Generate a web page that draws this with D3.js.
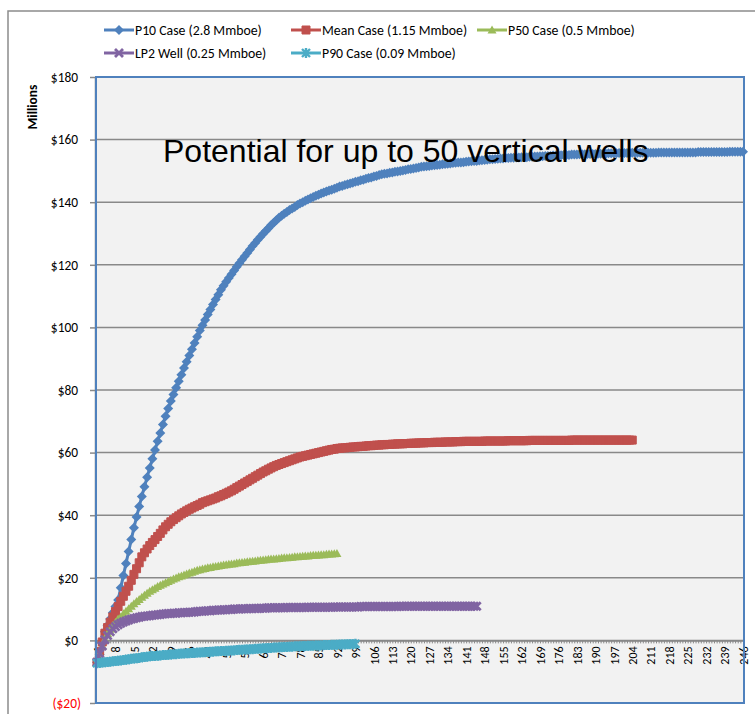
<!DOCTYPE html>
<html>
<head>
<meta charset="utf-8">
<script src="https://cdn.jsdelivr.net/npm/d3@7"></script>
<style>
  body { margin: 0; background: #fff; }
</style>
</head>
<body>
<div id="chart"></div>
<script>
// ---- data ($ millions per period) ----
var p10Case = [
  -7, -4.5, -1, 2.8, 4.8, 6.8, 8.8, 10.8, 12.9, 16.8,
  20.7, 24.6, 28.4, 32.2, 36, 39.4, 42.8, 46, 49.1, 52.1,
  55.1, 58, 60.8, 63.6, 66.3, 69, 71.6, 74.1, 76.5, 78.6,
  80.7, 82.8, 84.9, 87, 89, 91, 93, 95, 97, 99,
  100.7, 102.4, 104.1, 105.7, 107.3, 108.9, 110.4, 112, 113.3, 114.6,
  115.8, 117, 118.2, 119.4, 120.5, 121.6, 122.7, 123.8, 124.9, 126,
  127, 128, 129, 129.9, 130.8, 131.7, 132.6, 133.4, 134.2, 135,
  135.7, 136.3, 136.9, 137.5, 138, 138.5, 139.1, 139.6, 140, 140.5,
  140.9, 141.3, 141.7, 142.1, 142.4, 142.8, 143.1, 143.4, 143.7, 144,
  144.3, 144.6, 145, 145.2, 145.5, 145.7, 146, 146.2, 146.5, 146.7,
  147, 147.2, 147.5, 147.7, 147.9, 148.2, 148.4, 148.7, 148.9, 149.1,
  149.2, 149.4, 149.5, 149.7, 149.8, 150, 150.1, 150.3, 150.5, 150.6,
  150.8, 150.9, 151.1, 151.3, 151.4, 151.5, 151.6, 151.7, 151.8, 151.9,
  152, 152.1, 152.2, 152.3, 152.4, 152.5, 152.6, 152.7, 152.7, 152.8,
  152.9, 153, 153.1, 153.2, 153.2, 153.3, 153.4, 153.5, 153.6, 153.7,
  153.7, 153.8, 153.9, 154, 154, 154.1, 154.1, 154.2, 154.2, 154.3,
  154.3, 154.4, 154.4, 154.4, 154.5, 154.5, 154.6, 154.6, 154.7, 154.7,
  154.8, 154.8, 154.8, 154.9, 154.9, 155, 155, 155.1, 155.1, 155.1,
  155.2, 155.2, 155.2, 155.3, 155.3, 155.3, 155.4, 155.4, 155.4, 155.4,
  155.5, 155.5, 155.5, 155.5, 155.6, 155.6, 155.6, 155.6, 155.7, 155.7,
  155.7, 155.7, 155.8, 155.8, 155.8, 155.8, 155.8, 155.8, 155.8, 155.8,
  155.8, 155.8, 155.8, 155.9, 155.9, 155.9, 155.9, 155.9, 155.9, 155.9,
  155.9, 155.9, 155.9, 155.9, 155.9, 155.9, 155.9, 155.9, 156, 156,
  156, 156, 156, 156, 156, 156, 156, 156, 156, 156,
  156.1, 156.1, 156.1, 156.1, 156.1, 156.1
];
var meanCase = [
  -7, -3.5, -0.5, 2.3, 4.1, 5.8, 7.5, 9.2, 10.8, 12.5,
  14.1, 15.7, 17.3, 19.2, 21.1, 22.9, 24.8, 26.7, 28, 29.2,
  30.3, 31.3, 32.2, 33.2, 34.2, 35.3, 36.3, 37.1, 37.9, 38.6,
  39.2, 39.8, 40.4, 40.9, 41.4, 41.9, 42.3, 42.7, 43.1, 43.5,
  44, 44.3, 44.6, 44.9, 45.2, 45.5, 45.9, 46.2, 46.6, 47,
  47.4, 47.8, 48.3, 48.8, 49.3, 49.8, 50.3, 50.8, 51.3, 51.8,
  52.3, 52.8, 53.3, 53.8, 54.2, 54.7, 55.1, 55.5, 55.9, 56.2,
  56.5, 56.8, 57.1, 57.4, 57.7, 58, 58.3, 58.6, 58.8, 59,
  59.2, 59.4, 59.6, 59.8, 60, 60.2, 60.4, 60.6, 60.8, 61,
  61.1, 61.3, 61.4, 61.5, 61.5, 61.6, 61.7, 61.8, 61.8, 61.9,
  62, 62, 62.1, 62.2, 62.2, 62.3, 62.4, 62.4, 62.5, 62.5,
  62.6, 62.6, 62.7, 62.7, 62.8, 62.8, 62.8, 62.9, 62.9, 63,
  63, 63, 63.1, 63.1, 63.1, 63.2, 63.2, 63.2, 63.3, 63.3,
  63.3, 63.3, 63.4, 63.4, 63.4, 63.4, 63.5, 63.5, 63.5, 63.6,
  63.6, 63.6, 63.6, 63.6, 63.6, 63.6, 63.6, 63.7, 63.7, 63.7,
  63.7, 63.7, 63.7, 63.7, 63.7, 63.7, 63.8, 63.8, 63.8, 63.8,
  63.8, 63.8, 63.8, 63.8, 63.9, 63.9, 63.9, 63.9, 63.9, 63.9,
  63.9, 63.9, 63.9, 63.9, 63.9, 63.9, 63.9, 63.9, 63.9, 63.9,
  64, 64, 64, 64, 64, 64, 64, 64, 64, 64,
  64, 64, 64, 64, 64, 64, 64, 64, 64, 64,
  64, 64, 64, 64
];
var p50Case = [
  -7, -4.3, -1.8, 0.4, 2.2, 3.6, 4.8, 5.8, 6.8, 7.5,
  8.5, 9.3, 10.1, 10.9, 11.7, 12.4, 13.1, 13.8, 14.4, 15.1,
  15.7, 16.2, 16.7, 17.2, 17.6, 18, 18.4, 18.8, 19.2, 19.6,
  19.9, 20.3, 20.6, 20.9, 21.2, 21.5, 21.8, 22.1, 22.4, 22.6,
  22.8, 23, 23.2, 23.3, 23.5, 23.6, 23.8, 23.9, 24.1, 24.2,
  24.3, 24.4, 24.5, 24.7, 24.8, 24.9, 25, 25.1, 25.2, 25.3,
  25.4, 25.5, 25.6, 25.7, 25.8, 25.9, 26, 26, 26.1, 26.2,
  26.3, 26.4, 26.4, 26.5, 26.6, 26.7, 26.7, 26.8, 26.9, 27,
  27, 27.1, 27.2, 27.2, 27.3, 27.4, 27.4, 27.5, 27.6, 27.6,
  27.7, 27.8
];
var lp2Well = [
  -7, -4.2, -1.8, 0.2, 1.6, 2.8, 3.7, 4.4, 5, 5.5,
  5.9, 6.2, 6.5, 6.8, 7, 7.2, 7.4, 7.6, 7.7, 7.8,
  7.9, 8, 8.1, 8.2, 8.3, 8.4, 8.5, 8.6, 8.6, 8.7,
  8.7, 8.8, 8.8, 8.9, 8.9, 9, 9, 9.1, 9.2, 9.3,
  9.3, 9.4, 9.5, 9.5, 9.6, 9.6, 9.7, 9.7, 9.8, 9.8,
  9.9, 9.9, 10, 10, 10, 10.1, 10.1, 10.1, 10.2, 10.2,
  10.2, 10.2, 10.3, 10.3, 10.3, 10.4, 10.4, 10.4, 10.4, 10.4,
  10.4, 10.4, 10.5, 10.5, 10.5, 10.5, 10.5, 10.5, 10.5, 10.5,
  10.6, 10.6, 10.6, 10.6, 10.6, 10.6, 10.6, 10.6, 10.6, 10.6,
  10.7, 10.7, 10.7, 10.7, 10.7, 10.7, 10.7, 10.7, 10.7, 10.7,
  10.8, 10.8, 10.8, 10.8, 10.8, 10.8, 10.8, 10.8, 10.8, 10.8,
  10.8, 10.8, 10.8, 10.8, 10.8, 10.9, 10.9, 10.9, 10.9, 10.9,
  10.9, 10.9, 10.9, 10.9, 10.9, 10.9, 10.9, 10.9, 10.9, 10.9,
  10.9, 10.9, 10.9, 10.9, 10.9, 10.9, 10.9, 10.9, 10.9, 10.9,
  10.9, 10.9, 10.9, 10.9, 10.9
];
var p90Case = [
  -7.3, -7.2, -7.1, -7, -6.9, -6.8, -6.7, -6.6, -6.5, -6.4,
  -6.3, -6.2, -6, -5.9, -5.8, -5.7, -5.6, -5.4, -5.3, -5.2,
  -5.1, -5, -5, -4.9, -4.8, -4.7, -4.7, -4.6, -4.5, -4.4,
  -4.4, -4.3, -4.2, -4.2, -4.1, -4.1, -4, -4, -3.9, -3.9,
  -3.8, -3.8, -3.7, -3.6, -3.6, -3.5, -3.5, -3.4, -3.4, -3.3,
  -3.3, -3.2, -3.2, -3.1, -3, -3, -2.9, -2.9, -2.8, -2.8,
  -2.7, -2.7, -2.6, -2.5, -2.5, -2.4, -2.4, -2.3, -2.3, -2.2,
  -2.2, -2.1, -2.1, -2, -2, -1.9, -1.9, -1.9, -1.8, -1.8,
  -1.7, -1.7, -1.7, -1.6, -1.6, -1.6, -1.5, -1.5, -1.5, -1.4,
  -1.4, -1.4, -1.3, -1.3, -1.3, -1.2, -1.2, -1.2, -1.1
];

var categories = d3.range(1, 247);           // periods 1..246
var yTicks = [-20, 0, 20, 40, 60, 80, 100, 120, 140, 160, 180];
var seriesNames = ["P10 Case (2.8 Mmboe)", "Mean Case (1.15 Mmboe)", "P50 Case (0.5 Mmboe)",
                   "LP2 Well (0.25 Mmboe)", "P90 Case (0.09 Mmboe)"];
var seriesValues = [p10Case, meanCase, p50Case, lp2Well, p90Case];
var seriesColors = ["#4f81bd", "#c0504d", "#9bbb59", "#8064a2", "#4bacc6"];
var seriesMarkers = ["diamond", "square", "triangle", "x", "star"];
var titleText = "Potential for up to 50 vertical wells";

// ---- layout ----
var width = 755, height = 714;
var plot = {left: 96, right: 744, top: 77, bottom: 703};
var legendPos = [[104, 30], [291, 30], [477, 30], [104, 53], [291, 53]];
var uiFont = "Carlito, Calibri, Lato, sans-serif";

var svg = d3.select("#chart").append("svg")
    .attr("width", width)
    .attr("height", height)
    .style("font-family", uiFont);

// outer chart frame
svg.append("rect")
    .attr("x", 8).attr("y", 11)
    .attr("width", 800).attr("height", 800)
    .attr("fill", "#fff")
    .attr("stroke", "#8c8c8c")
    .attr("stroke-width", 1.5);

var x = d3.scalePoint().domain(categories).range([97, 743]);
var y = d3.scaleLinear().domain([-20, 180]).range([plot.bottom, plot.top]);

// plot area background
svg.append("rect")
    .attr("x", plot.left).attr("y", plot.top)
    .attr("width", plot.right - plot.left)
    .attr("height", plot.bottom - plot.top)
    .attr("fill", "#f2f2f2");

// gridlines
svg.append("g").selectAll("line")
    .data(yTicks)
    .enter().append("line")
    .attr("x1", plot.left).attr("x2", plot.right)
    .attr("y1", function(d) { return y(d); })
    .attr("y2", function(d) { return y(d); })
    .attr("stroke", "#898989")
    .attr("stroke-width", 1.5);

// y axis
var yAxis = d3.axisLeft(y)
    .tickValues(yTicks)
    .tickSize(5)
    .tickSizeOuter(0)
    .tickFormat(function(d) { return d < 0 ? "($" + (-d) + ")" : "$" + d; });
var gy = svg.append("g").attr("transform", "translate(95,0)").call(yAxis);
gy.attr("font-family", null);
gy.select(".domain").attr("stroke", "#898989").attr("stroke-width", 1.5);
gy.selectAll(".tick line").attr("stroke", "#898989").attr("stroke-width", 1.5);
gy.selectAll(".tick text")
    .attr("x", function(d) { return d < 0 ? -14 : -17; })
    .style("font-size", "13.4px")
    .attr("fill", function(d) { return d < 0 ? "#ff0000" : "#000"; });

// x axis crossing at zero
var xAxis = d3.axisBottom(x)
    .tickValues(categories)
    .tickSize(3)
    .tickSizeOuter(0)
    .tickFormat(function(d) { return (d - 1) % 7 === 0 ? d : ""; });
var gx = svg.append("g").attr("transform", "translate(0," + y(0) + ")").call(xAxis);
gx.attr("font-family", null);
gx.select(".domain").attr("stroke", "#898989").attr("stroke-width", 1.5);
gx.selectAll(".tick line").attr("stroke", "#898989");
gx.selectAll(".tick text")
    .attr("transform", "rotate(-90)")
    .attr("text-anchor", "end")
    .attr("x", -6).attr("y", 0)
    .attr("dy", "0.35em")
    .style("font-size", "12px")
    .attr("fill", "#000");

// markers
function addMarker(g, type, color) {
    if (type === "diamond") {
        g.append("path").attr("d", "M0,-5L5,0L0,5L-5,0Z").attr("fill", color);
    } else if (type === "square") {
        g.append("path").attr("d", "M-4,-4H4V4H-4Z").attr("fill", color)
            .attr("stroke", color).attr("stroke-width", 1);
    } else if (type === "triangle") {
        g.append("path").attr("d", "M0,-4.5L4.5,3.5L-4.5,3.5Z").attr("fill", color);
    } else if (type === "x") {
        g.append("path").attr("d", "M-4,-4L4,4M4,-4L-4,4")
            .attr("stroke", color).attr("stroke-width", 2.8).attr("fill", "none");
    } else {
        g.append("path").attr("d", "M-4,-4L4,4M4,-4L-4,4M0,-5V5")
            .attr("stroke", color).attr("stroke-width", 2.4).attr("fill", "none");
    }
}

var line = d3.line()
    .x(function(d, i) { return x(categories[i]); })
    .y(function(d) { return y(d); });

seriesValues.forEach(function(vals, s) {
    var g = svg.append("g").attr("class", "series");
    g.append("path")
        .datum(vals)
        .attr("d", line)
        .attr("fill", "none")
        .attr("stroke", seriesColors[s])
        .attr("stroke-width", 3);
    g.selectAll("g.pt")
        .data(vals)
        .enter().append("g")
        .attr("class", "pt")
        .attr("transform", function(d, i) { return "translate(" + x(categories[i]) + "," + y(d) + ")"; })
        .each(function() { addMarker(d3.select(this), seriesMarkers[s], seriesColors[s]); });
});

// plot area border
svg.append("rect")
    .attr("x", plot.left).attr("y", plot.top)
    .attr("width", plot.right - plot.left)
    .attr("height", plot.bottom - plot.top)
    .attr("fill", "none")
    .attr("stroke", "#4f81bd")
    .attr("stroke-width", 2);

// y axis title
svg.append("text")
    .attr("transform", "translate(37,107) rotate(-90)")
    .attr("text-anchor", "middle")
    .style("font-size", "13.5px")
    .style("font-weight", "bold")
    .text("Millions");

// annotation title
svg.append("text")
    .attr("x", 163).attr("y", 162)
    .style("font-family", "'Liberation Sans', Arial, sans-serif")
    .style("font-size", "32px")
    .attr("fill", "#000")
    .text(titleText);

// legend
var legend = svg.append("g");
seriesNames.forEach(function(name, s) {
    var lx = legendPos[s][0], ly = legendPos[s][1];
    var item = legend.append("g").attr("transform", "translate(" + lx + "," + ly + ")");
    item.append("line")
        .attr("x1", 0).attr("x2", 30)
        .attr("stroke", seriesColors[s]).attr("stroke-width", 3);
    addMarker(item.append("g").attr("transform", "translate(15,0)"), seriesMarkers[s], seriesColors[s]);
    item.append("text")
        .attr("x", 31).attr("dy", "0.35em")
        .style("font-size", "13.8px")
        .attr("fill", "#000")
        .text(name);
});
</script>
</body>
</html>
